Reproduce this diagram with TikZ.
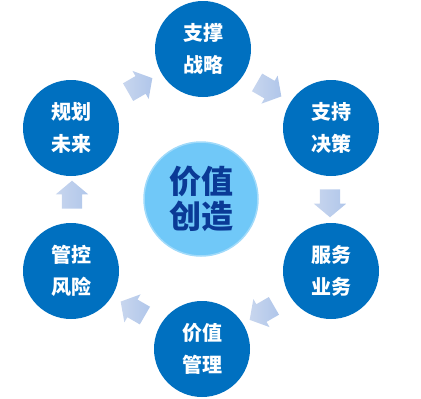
\documentclass[tikz,border=0pt]{standalone}
\usepackage{fontspec}
\newfontfamily\cjk{Noto Sans CJK SC}
\usetikzlibrary{positioning, calc, shapes.arrows}

\definecolor{stageblue}{RGB}{0,112,192}
\definecolor{corefill}{RGB}{112,200,248}
\definecolor{corering}{RGB}{160,218,250}
\definecolor{coretext}{RGB}{10,58,150}
\definecolor{arrowlight}{RGB}{200,214,238}
\definecolor{arrowdark}{RGB}{176,198,234}

\tikzset{
  stage/.style={circle, fill=stageblue, minimum size=96pt, inner sep=0pt,
    text=white, align=center, font=\cjk\bfseries\fontsize{20}{32}\selectfont},
  core/.style={circle, fill=corefill, draw=corering, line width=1.5pt,
    minimum size=114pt, inner sep=0pt, text=coretext, align=center,
    font=\cjk\bfseries\fontsize{32}{35}\selectfont},
  flowarrow/.style={single arrow, minimum height=28pt, minimum width=0pt,
    single arrow head extend=6pt, single arrow tip angle=100,
    inner xsep=0pt, inner ysep=10pt,
    left color=arrowlight, right color=arrowdark, draw=none}
}

\begin{document}
\begin{tikzpicture}[x=1pt,y=-1pt]
\useasboundingbox (0,0) rectangle (421,399);

% centre
\node[core] (core) at (201,199) {价值\\创造};

% six stages, clockwise from the top
\node[stage] (strategy) at (203,49)  {支撑\\战略};
\node[stage] (decision) at (331,128) {支持\\决策};
\node[stage] (business) at (331,271) {服务\\业务};
\node[stage] (valuemgt) at (202,349) {价值\\管理};
\node[stage] (risk)     at (71,271)  {管控\\风险};
\node[stage] (future)   at (71,128)  {规划\\未来};

% block arrows between the stages
\foreach \a in {60,0,-60,-120,180,120}
  \node[flowarrow, rotate=\a-90] (flow\a) at ($(core)+(\a:129pt)$) {};
\end{tikzpicture}
\end{document}
